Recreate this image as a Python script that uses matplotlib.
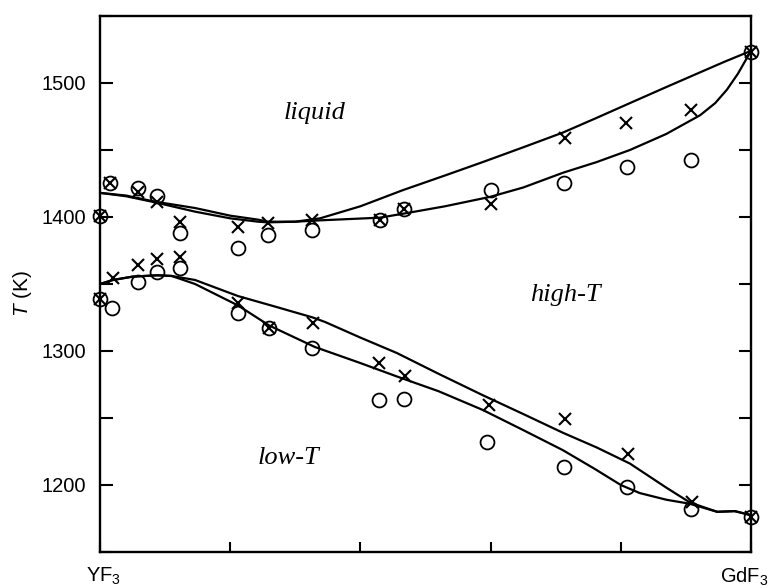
import numpy as np
import matplotlib
matplotlib.use('Agg')
from matplotlib import pyplot as plt

# Fonts: sans for axes, serif italic for the phase field names
plt.rcParams['font.family'] = ['Liberation Sans', 'DejaVu Sans']
plt.rcParams['mathtext.fontset'] = 'custom'
plt.rcParams['mathtext.rm'] = 'Liberation Sans'
plt.rcParams['mathtext.it'] = 'Liberation Sans:italic'

# Composition axis runs from pure YF3 (0) to pure GdF3 (1)
x_ticks = [0.0, 0.2, 0.4, 0.6, 0.8, 1.0]
x_end_labels = ['YF$_3$', 'GdF$_3$']
y_ticks = [1150, 1200, 1250, 1300, 1350, 1400, 1450, 1500, 1550]
y_tick_labels = ['', '1200', '', '1300', '', '1400', '', '1500', '']

# Crosses (x, T)
cross_x = [0.0, 0.015, 0.058, 0.088, 0.123, 0.212, 0.258, 0.326, 0.43, 0.467, 0.6, 0.714, 0.808, 0.908, 1.0,
           0.0, 0.02, 0.058, 0.088, 0.123, 0.212, 0.26, 0.327, 0.429, 0.468, 0.597, 0.715, 0.811, 0.909, 1.0]
cross_T = [1401, 1425, 1419, 1411, 1396, 1392.5, 1395.5, 1398, 1398, 1406, 1410, 1459, 1470, 1480, 1523,
           1339, 1354.5, 1364, 1369, 1370, 1336, 1317, 1321, 1291, 1281, 1260, 1249, 1223, 1187, 1176]

# Circles (x, T)
circle_x = [0.0, 0.015, 0.058, 0.088, 0.123, 0.212, 0.258, 0.326, 0.43, 0.467, 0.6, 0.712, 0.81, 0.908, 1.0,
            0.0, 0.019, 0.058, 0.088, 0.123, 0.212, 0.26, 0.326, 0.429, 0.467, 0.594, 0.713, 0.81, 0.908, 1.0]
circle_T = [1401, 1425, 1421.5, 1415.5, 1388, 1377, 1386.6, 1390, 1398, 1406, 1420, 1425, 1437, 1442.5, 1523,
            1339, 1332, 1351.5, 1359, 1362, 1328, 1317, 1302, 1263.4, 1264, 1232, 1213.4, 1198.5, 1182, 1176]

# Liquidus
liq_x = [0.0, 0.04, 0.084, 0.146, 0.2, 0.243, 0.258, 0.3, 0.338, 0.4, 0.465, 0.53, 0.588, 0.65, 0.711, 0.763,
         0.814, 0.87, 0.922, 0.96, 1.0]
liq_T = [1418, 1416, 1411.5, 1406.7, 1401, 1398, 1396.5, 1396.5, 1399, 1408, 1420, 1431, 1441, 1452, 1463, 1474,
         1485, 1497, 1508, 1516, 1524]

# Solidus
sol_x = [0.0, 0.04, 0.084, 0.146, 0.2, 0.243, 0.258, 0.3, 0.338, 0.43, 0.472, 0.53, 0.599, 0.65, 0.711, 0.763,
         0.814, 0.87, 0.922, 0.945, 0.963, 0.98, 1.0]
sol_T = [1418, 1415.5, 1411, 1404, 1399, 1396.5, 1396, 1396.5, 1397.5, 1399.5, 1403, 1408, 1415, 1422, 1433, 1441,
         1450, 1462, 1476, 1485, 1495, 1507, 1524]

# Transition, upper boundary
up_x = [0.0, 0.02, 0.05, 0.088, 0.11, 0.146, 0.212, 0.27, 0.327, 0.346, 0.4, 0.456, 0.52, 0.588, 0.65, 0.711,
        0.763, 0.814, 0.87, 0.906, 0.948, 0.975, 1.0]
up_T = [1350, 1353, 1355.5, 1356.5, 1356, 1353, 1341, 1333, 1325, 1321.6, 1310, 1298.5, 1283, 1267, 1253, 1239,
        1228, 1216, 1198, 1187, 1180, 1180.5, 1177.5]

# Transition, lower boundary
low_x = [0.0, 0.02, 0.05, 0.088, 0.11, 0.146, 0.212, 0.26, 0.33, 0.4, 0.456, 0.52, 0.588, 0.65, 0.711, 0.76,
         0.8, 0.829, 0.87, 0.906, 0.948, 0.975, 1.0]
low_T = [1350, 1353, 1355.5, 1356.5, 1356, 1350, 1334, 1319, 1303, 1291, 1281, 1270, 1256, 1241, 1226, 1212,
         1200, 1194, 1189, 1186, 1180, 1180.5, 1177.5]

fig = plt.figure(figsize=(7.72, 5.88), dpi=100)
ax = fig.add_axes([100 / 772, 1 - 552 / 588, 651 / 772, 536 / 588])

# Curves
for cx, cT in [(liq_x, liq_T), (sol_x, sol_T), (up_x, up_T), (low_x, low_T)]:
    ax.plot(cx, cT, color='black', lw=1.6, solid_capstyle='round', solid_joinstyle='round', clip_on=False)

# Measured points
ax.plot(circle_x, circle_T, linestyle='none', marker='o', ms=10, mfc='none', mec='black', mew=1.3, clip_on=False)
ax.plot(cross_x, cross_T, linestyle='none', marker='x', ms=8.5, mec='black', mew=1.5, clip_on=False)

# Phase field names
ax.text(0.329, 1477.6, 'liquid', family='Liberation Serif', style='italic', fontsize=19, ha='center', va='center')
ax.text(0.714, 1342, 'high-T', family='Liberation Serif', style='italic', fontsize=19, ha='center', va='center')
ax.text(0.29, 1220, 'low-T', family='Liberation Serif', style='italic', fontsize=19, ha='center', va='center')

ax.set_xlim(0, 1)
ax.set_ylim(1150, 1550)
ax.set_xticks(x_ticks)
ax.set_xticklabels([])
ax.set_yticks(y_ticks)
ax.set_yticklabels(y_tick_labels)
ax.tick_params(axis='x', direction='in', length=7.5, width=1.5, top=False)
ax.tick_params(axis='y', direction='in', length=9, width=1.5, labelsize=14.5, pad=10, right=True)
for spine in ax.spines.values():
    spine.set_linewidth(1.7)

# End member names under the axis (GdF3 nudged in so it stays on the canvas)
ax.text(0.005, -0.025, x_end_labels[0], transform=ax.transAxes, fontsize=14.5, ha='center', va='top')
ax.text(0.99, -0.025, x_end_labels[1], transform=ax.transAxes, fontsize=14.5, ha='center', va='top')

fig.text(22 / 772, 1 - 293 / 588, '$T$ (K)', rotation=90, fontsize=15, ha='center', va='center')

fig.savefig('out.png', dpi=100)
